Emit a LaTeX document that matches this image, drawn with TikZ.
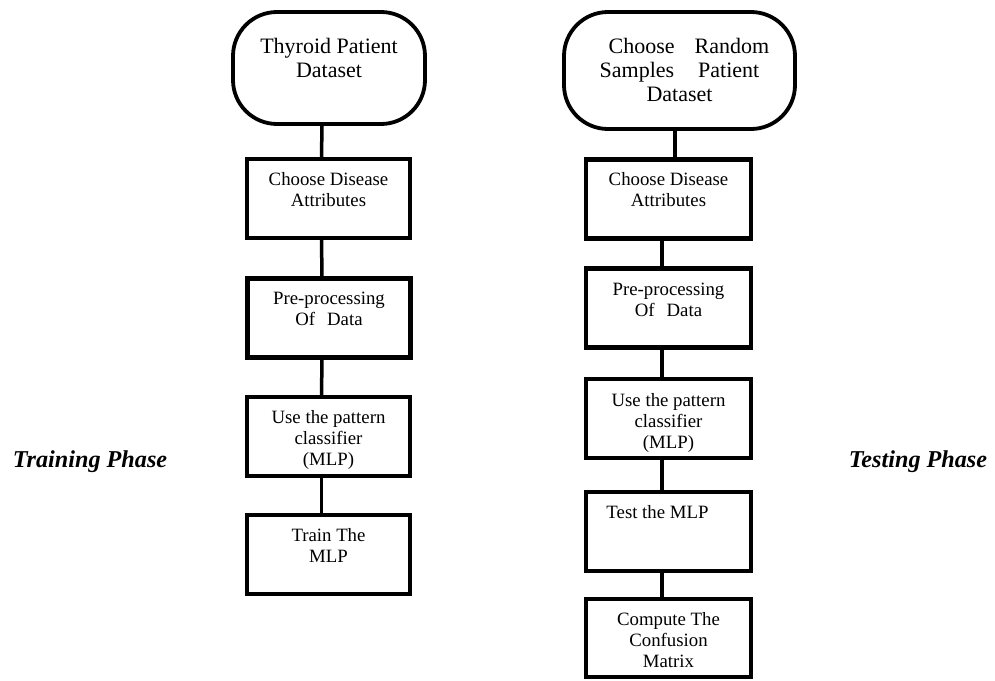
\documentclass[tikz,border=0pt]{standalone}
\usepackage{fontspec}
\setmainfont{Liberation Serif}
\tikzset{
  terminal/.style={draw, line width=3.8pt, rounded corners=44pt, inner sep=0pt},
  procbox/.style={draw, line width=4.2pt, inner sep=0pt, minimum height=79pt},
  termtext/.style={anchor=north, inner sep=0pt, align=center, font=\fontsize{22}{24}\selectfont},
  boxtext/.style={anchor=north, inner sep=0pt, align=center, font=\fontsize{18.8}{21}\selectfont},
  phase/.style={font=\fontsize{24.2}{26}\selectfont\bfseries\itshape},
  link/.style={line width=3.5pt}
}
\begin{document}
\begin{tikzpicture}[x=1pt, y=-1pt]
  \useasboundingbox[fill=white] (0,0) rectangle (995,680);
  % training phase column
  \node[terminal, minimum width=192pt, minimum height=112pt,
    label={[termtext, yshift=-27.5pt]90:Thyroid Patient\\Dataset}] (trData) at (329,68) {};
  \node[procbox, minimum width=163pt, label={[boxtext, yshift=-15pt]90:Choose Disease\\Attributes}] (trAttr) at (328.5,198.5) {};
  \node[procbox, minimum width=163pt, label={[boxtext, yshift=-15pt]90:Pre-processing\\Of\hspace{12pt}Data}] (trPre) at (329,318) {};
  \node[procbox, minimum width=163pt, label={[boxtext, yshift=-15pt]90:Use the pattern\\classifier\\(MLP)}] (trMlp) at (328.5,436.5) {};
  \node[procbox, minimum width=163pt, label={[boxtext, yshift=-15pt]90:Train The\\MLP}] (trTrain) at (328.5,554.5) {};
  \foreach \a/\b in {trData/trAttr, trAttr/trPre, trPre/trMlp, trMlp/trTrain}
    \draw[link] ([xshift=-7pt]\a.south) -- ([xshift=-7pt]\b.north);
  % testing phase column
  \node[terminal, minimum width=231pt, minimum height=117pt,
    label={[termtext, yshift=-28pt]90:\hspace*{19pt}Choose\hspace{20pt}Random\\Samples\hspace{24pt}Patient\hspace*{17pt}\\Dataset}] (tsData) at (679.5,70.5) {};
  \node[procbox, minimum width=165pt, label={[boxtext, yshift=-15pt]90:Choose Disease\\Attributes}] (tsAttr) at (668.5,199) {};
  \node[procbox, minimum width=165pt, label={[boxtext, yshift=-16pt]90:Pre-processing\\Of\hspace{12pt}Data}] (tsPre) at (668.5,308) {};
  \node[procbox, minimum width=165pt, label={[boxtext, yshift=-16pt]90:Use the pattern\\classifier\\(MLP)}] (tsMlp) at (668.5,418.5) {};
  \node[procbox, minimum width=165pt, label={[boxtext, yshift=-15pt, xshift=-11pt]90:Test the MLP}] (tsTest) at (668.5,531.5) {};
  \node[procbox, minimum width=165pt, minimum height=78pt, label={[boxtext, yshift=-15pt]90:Compute The\\Confusion\\Matrix}] (tsConf) at (668.5,638) {};
  \draw[link] ([xshift=6.5pt]tsAttr.north) -- ([xshift=6.5pt]tsAttr.north |- tsData.south);
  \foreach \a/\b in {tsAttr/tsPre, tsPre/tsMlp, tsMlp/tsTest, tsTest/tsConf}
    \draw[link] ([xshift=-6.5pt]\a.south) -- ([xshift=-6.5pt]\b.north);
  % phase labels
  \node[phase] (trainLbl) at (90,462) {Training Phase};
  \node[phase] (testLbl) at (918,462) {Testing Phase};
\end{tikzpicture}
\end{document}
